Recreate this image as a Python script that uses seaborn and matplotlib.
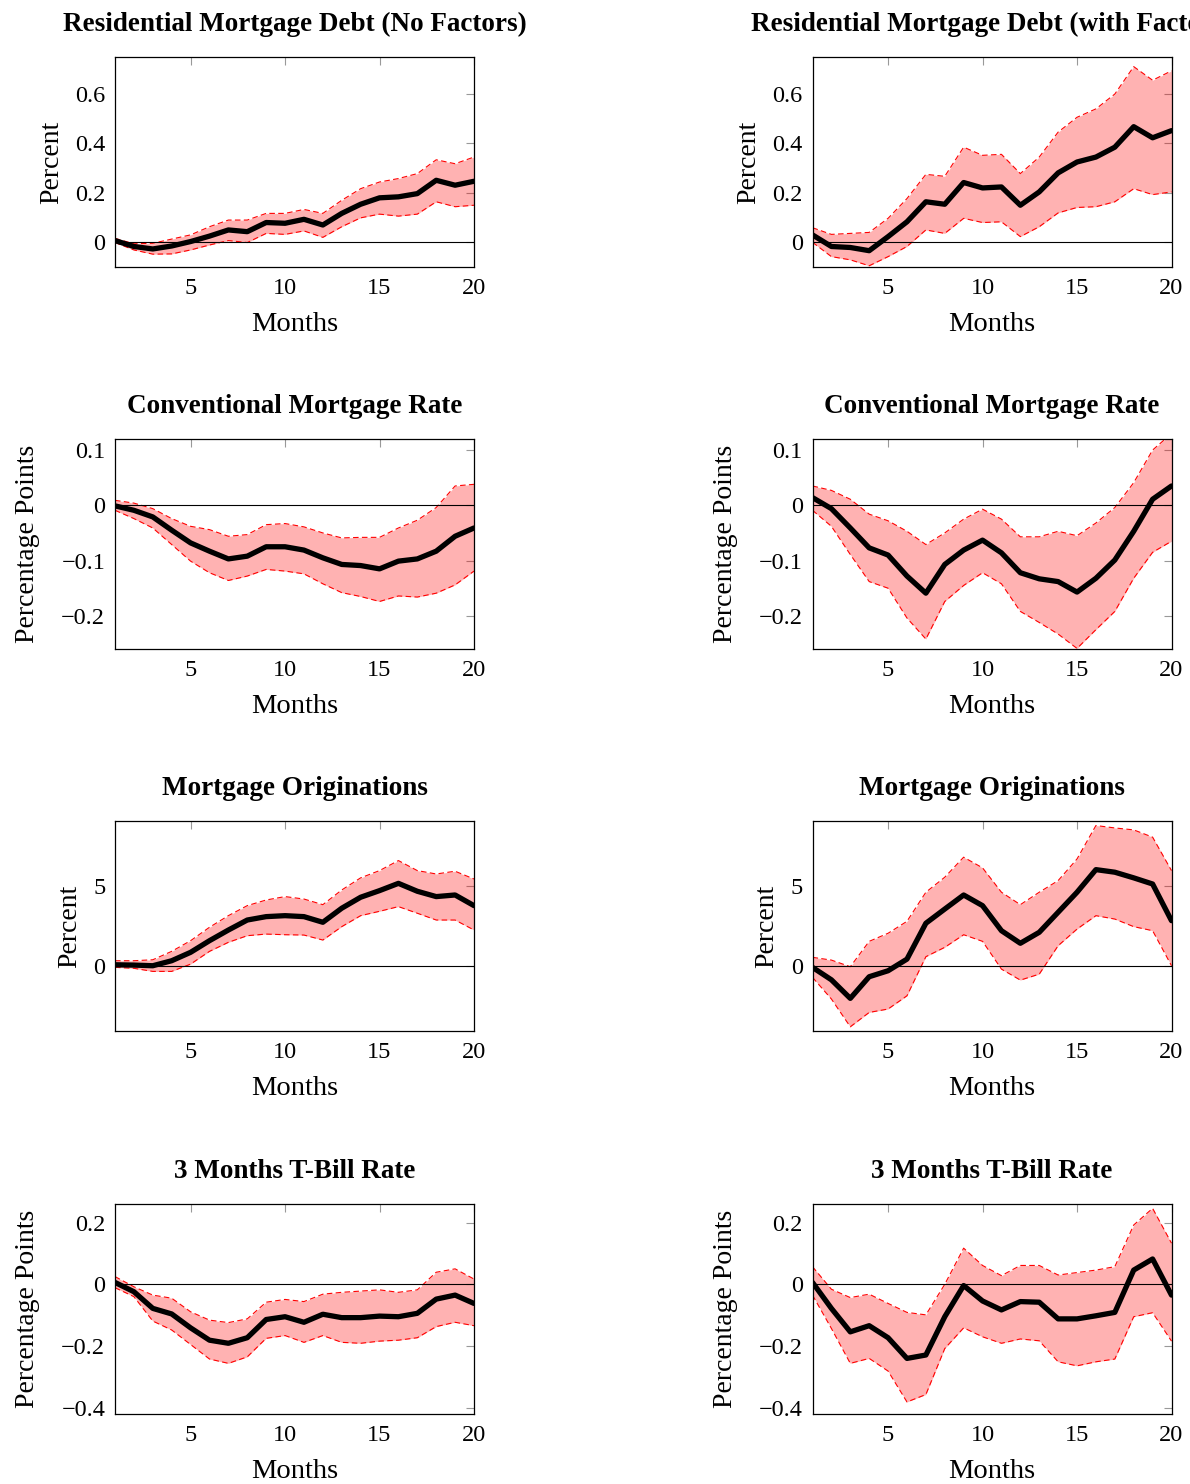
import numpy as np
import pandas as pd
import matplotlib
matplotlib.use("Agg")
import matplotlib.pyplot as plt
import seaborn as sns

months = list(range(1, 21))

# Residential mortgage debt, no factors
debt_nf_mean = [0.007, -0.017, -0.027, -0.015, 0.003, 0.025, 0.05, 0.043, 0.08, 0.077,
                0.093, 0.07, 0.117, 0.154, 0.18, 0.184, 0.197, 0.251, 0.231, 0.247]
debt_nf_upper = [0.016, -0.006, -0.004, 0.013, 0.03, 0.063, 0.09, 0.09, 0.117, 0.117,
                 0.133, 0.117, 0.17, 0.217, 0.244, 0.258, 0.278, 0.334, 0.318, 0.345]
debt_nf_lower = [-0.001, -0.031, -0.048, -0.047, -0.031, -0.011, 0.007, -0.001, 0.036, 0.032,
                 0.046, 0.02, 0.063, 0.099, 0.114, 0.106, 0.114, 0.164, 0.144, 0.15]

# Residential mortgage debt, with factors
debt_f_mean = [0.03, -0.017, -0.021, -0.034, 0.023, 0.083, 0.164, 0.154, 0.242, 0.22,
               0.224, 0.15, 0.204, 0.281, 0.325, 0.345, 0.385, 0.468, 0.423, 0.452]
debt_f_upper = [0.059, 0.032, 0.036, 0.04, 0.097, 0.177, 0.275, 0.267, 0.385, 0.352,
                0.356, 0.278, 0.345, 0.446, 0.506, 0.54, 0.6, 0.711, 0.656, 0.694]
debt_f_lower = [0.0, -0.058, -0.071, -0.095, -0.058, -0.017, 0.05, 0.036, 0.097, 0.08,
                0.083, 0.023, 0.063, 0.119, 0.141, 0.144, 0.164, 0.217, 0.193, 0.204]

# Conventional mortgage rate, no factors
rate_nf_mean = [-0.001, -0.009, -0.021, -0.045, -0.068, -0.083, -0.097, -0.092, -0.075, -0.075,
                -0.081, -0.095, -0.107, -0.109, -0.115, -0.101, -0.097, -0.083, -0.056, -0.041]
rate_nf_upper = [0.009, 0.004, -0.006, -0.024, -0.038, -0.044, -0.056, -0.053, -0.035, -0.033,
                 -0.039, -0.05, -0.059, -0.058, -0.058, -0.041, -0.027, -0.004, 0.035, 0.038]
rate_nf_lower = [-0.009, -0.024, -0.041, -0.071, -0.101, -0.122, -0.136, -0.128, -0.116, -0.119,
                 -0.124, -0.142, -0.158, -0.165, -0.174, -0.164, -0.166, -0.159, -0.144, -0.119]

# Conventional mortgage rate, with factors
rate_f_mean = [0.014, -0.006, -0.041, -0.077, -0.09, -0.128, -0.159, -0.107, -0.081, -0.063,
               -0.086, -0.122, -0.133, -0.138, -0.157, -0.132, -0.099, -0.047, 0.011, 0.035]
rate_f_upper = [0.035, 0.027, 0.011, -0.016, -0.028, -0.047, -0.071, -0.05, -0.025, -0.007,
                -0.025, -0.057, -0.057, -0.047, -0.055, -0.032, -0.004, 0.041, 0.1, 0.13]
rate_f_lower = [-0.009, -0.038, -0.089, -0.138, -0.15, -0.204, -0.242, -0.174, -0.145, -0.122,
                -0.142, -0.192, -0.212, -0.233, -0.259, -0.225, -0.192, -0.132, -0.085, -0.065]

# Mortgage originations, no factors
orig_nf_mean = [0.1, 0.08, 0.04, 0.35, 0.87, 1.59, 2.25, 2.87, 3.08, 3.14,
                3.08, 2.73, 3.6, 4.28, 4.69, 5.14, 4.65, 4.32, 4.42, 3.76]
orig_nf_upper = [0.35, 0.35, 0.41, 0.93, 1.59, 2.42, 3.14, 3.76, 4.11, 4.32,
                 4.17, 3.82, 4.73, 5.48, 5.93, 6.55, 5.93, 5.72, 5.89, 5.41]
orig_nf_lower = [-0.06, -0.12, -0.31, -0.31, 0.14, 0.93, 1.49, 1.9, 2.0, 1.96,
                 1.94, 1.63, 2.46, 3.14, 3.41, 3.7, 3.29, 2.87, 2.87, 2.25]

# Mortgage originations, with factors
orig_f_mean = [-0.06, -0.83, -1.98, -0.64, -0.27, 0.45, 2.67, 3.55, 4.42, 3.76,
               2.21, 1.43, 2.11, 3.35, 4.59, 5.99, 5.83, 5.48, 5.1, 2.83]
orig_f_upper = [0.56, 0.39, -0.02, 1.55, 2.05, 2.79, 4.59, 5.52, 6.76, 6.1,
                4.59, 3.82, 4.59, 5.31, 6.65, 8.72, 8.57, 8.45, 8.0, 5.93]
orig_f_lower = [-0.68, -2.02, -3.74, -2.85, -2.64, -1.82, 0.6, 1.18, 1.96, 1.55,
                -0.17, -0.85, -0.48, 1.28, 2.31, 3.14, 2.93, 2.46, 2.21, 0.04]

# 3-month T-bill rate, no factors
tbill_nf_mean = [0.006, -0.024, -0.078, -0.096, -0.141, -0.181, -0.191, -0.173, -0.114, -0.105,
                 -0.123, -0.097, -0.108, -0.108, -0.103, -0.105, -0.094, -0.048, -0.035, -0.062]
tbill_nf_upper = [0.025, -0.008, -0.035, -0.045, -0.089, -0.116, -0.124, -0.112, -0.058, -0.049,
                  -0.056, -0.032, -0.026, -0.022, -0.018, -0.026, -0.018, 0.039, 0.05, 0.017]
tbill_nf_lower = [-0.011, -0.04, -0.119, -0.148, -0.195, -0.242, -0.256, -0.235, -0.175, -0.166,
                  -0.188, -0.166, -0.188, -0.191, -0.184, -0.181, -0.173, -0.137, -0.123, -0.134]

# 3-month T-bill rate, with factors
tbill_f_mean = [0.006, -0.078, -0.154, -0.134, -0.173, -0.24, -0.229, -0.105, -0.004, -0.054,
                -0.083, -0.056, -0.058, -0.112, -0.112, -0.102, -0.091, 0.046, 0.082, -0.035]
tbill_f_upper = [0.057, -0.016, -0.043, -0.032, -0.062, -0.091, -0.099, 0.0, 0.117, 0.061,
                 0.028, 0.061, 0.061, 0.03, 0.038, 0.046, 0.057, 0.192, 0.246, 0.133]
tbill_f_lower = [-0.035, -0.143, -0.256, -0.24, -0.281, -0.381, -0.357, -0.208, -0.141, -0.17,
                 -0.191, -0.177, -0.183, -0.251, -0.264, -0.251, -0.242, -0.105, -0.092, -0.184]

titles = ["Residential Mortgage Debt (No Factors)", "Residential Mortgage Debt (with Factors)",
          "Conventional Mortgage Rate", "Conventional Mortgage Rate",
          "Mortgage Originations", "Mortgage Originations",
          "3 Months T-Bill Rate", "3 Months T-Bill Rate"]
ylabels = ["Percent", "Percent", "Percentage Points", "Percentage Points",
           "Percent", "Percent", "Percentage Points", "Percentage Points"]
row_ylims = [(-0.1, 0.75), (-0.26, 0.12), (-4, 9), (-0.42, 0.26)]
row_yticks = [[0, 0.2, 0.4, 0.6], [-0.2, -0.1, 0, 0.1], [0, 5], [-0.4, -0.2, 0, 0.2]]
xtick_vals = [5, 10, 15, 20]

series = [
    (debt_nf_mean, debt_nf_lower, debt_nf_upper),
    (debt_f_mean, debt_f_lower, debt_f_upper),
    (rate_nf_mean, rate_nf_lower, rate_nf_upper),
    (rate_f_mean, rate_f_lower, rate_f_upper),
    (orig_nf_mean, orig_nf_lower, orig_nf_upper),
    (orig_f_mean, orig_f_lower, orig_f_upper),
    (tbill_nf_mean, tbill_nf_lower, tbill_nf_upper),
    (tbill_f_mean, tbill_f_lower, tbill_f_upper),
]

sns.set_style("white")
plt.rcParams["font.family"] = ["Liberation Serif", "DejaVu Serif"]
plt.rcParams["axes.unicode_minus"] = True
plt.rcParams["text.color"] = "black"
plt.rcParams["axes.labelcolor"] = "black"
plt.rcParams["xtick.labelcolor"] = "black"
plt.rcParams["ytick.labelcolor"] = "black"

fig = plt.figure(figsize=(11.9, 14.84), dpi=100)

W, H = 1190.0, 1484.0
col_left = [115.0, 812.5]
ax_w = 359.0
row_top = [57.0, 439.0, 821.0, 1204.0]
ax_h = 210.0


def fmt(v):
    if abs(v) < 1e-12:
        return "0"
    s = ("%g" % abs(v))
    return ("\u2212" + s) if v < 0 else s


for i, (mean, lower, upper) in enumerate(series):
    r, c = divmod(i, 2)
    left = col_left[c] / W
    bottom = 1 - (row_top[r] + ax_h) / H
    ax = fig.add_axes([left, bottom, ax_w / W, ax_h / H])

    df = pd.DataFrame({"month": months, "mean": mean, "lower": lower, "upper": upper})
    ax.fill_between(df["month"], df["lower"], df["upper"], color="red", alpha=0.3,
                    linewidth=0, zorder=1)
    sns.lineplot(data=df, x="month", y="upper", ax=ax, color="red", linewidth=0.8,
                 linestyle=(0, (5, 3)), zorder=2)
    sns.lineplot(data=df, x="month", y="lower", ax=ax, color="red", linewidth=0.8,
                 linestyle=(0, (5, 3)), zorder=2)
    ax.axhline(0, color="black", linewidth=0.8, zorder=3)
    sns.lineplot(data=df, x="month", y="mean", ax=ax, color="black", linewidth=3.8,
                 zorder=4)

    ax.set_xlim(1, 20)
    ax.set_ylim(*row_ylims[r])
    ax.set_xticks(xtick_vals)
    ax.set_xticklabels([str(v) for v in xtick_vals])
    ax.set_yticks(row_yticks[r])
    ax.set_yticklabels([fmt(v) for v in row_yticks[r]])
    ax.tick_params(axis="both", which="both", direction="in", length=6, width=0.8,
                   color="#999999", labelsize=17.5, top=True, right=True,
                   labelcolor="black")
    ax.tick_params(axis="x", pad=8)
    ax.tick_params(axis="y", pad=7)
    for sp in ax.spines.values():
        sp.set_visible(True)
        sp.set_color("black")
        sp.set_linewidth(0.9)
    ax.set_xlabel("Months", fontsize=20.5, labelpad=9)
    ypad = 8 if ylabels[i] == "Percent" else 15
    ax.set_ylabel(ylabels[i], fontsize=20, labelpad=ypad)
    ax.set_title(titles[i], fontsize=19.5, fontweight="bold", pad=19, color="black")

fig.savefig("out.png", dpi=100)
